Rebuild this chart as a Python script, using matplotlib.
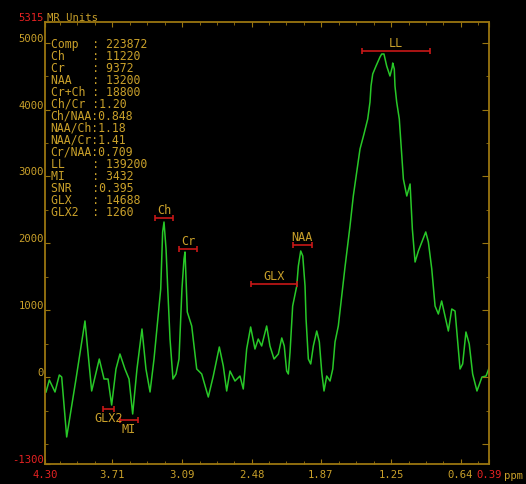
import numpy as np
import matplotlib.pyplot as plt

# spectrum trace (ppm, MR units)
ppm = [4.291, 4.262, 4.212, 4.174, 4.153, 4.109, 4.027, 3.948, 3.889, 3.822,
       3.780, 3.745, 3.713, 3.675, 3.640, 3.596, 3.560, 3.528, 3.490, 3.446,
       3.411, 3.375, 3.340, 3.306, 3.281, 3.264, 3.252, 3.234, 3.219, 3.199,
       3.173, 3.146, 3.120, 3.094, 3.076, 3.067, 3.047, 3.008, 2.964, 2.920,
       2.862, 2.818, 2.765, 2.730, 2.700, 2.671, 2.627, 2.583, 2.554, 2.524,
       2.489, 2.451, 2.422, 2.392, 2.348, 2.319, 2.283, 2.245, 2.215, 2.193,
       2.172, 2.157, 2.142, 2.119, 2.083, 2.069, 2.048, 2.030, 2.010, 2.001,
       1.981, 1.960, 1.937, 1.907, 1.884, 1.863, 1.843, 1.819, 1.790, 1.766,
       1.746, 1.717, 1.687, 1.658, 1.614, 1.585, 1.564, 1.526, 1.491, 1.458,
       1.438, 1.429, 1.414, 1.385, 1.350, 1.335, 1.315, 1.291, 1.262, 1.242,
       1.238, 1.224, 1.218, 1.203, 1.189, 1.180, 1.144, 1.114, 1.085, 1.065,
       1.041, 1.012, 0.947, 0.924, 0.894, 0.865, 0.836, 0.807, 0.777, 0.748,
       0.718, 0.689, 0.660, 0.645, 0.622, 0.593, 0.564, 0.534, 0.496, 0.452,
       0.416, 0.386]
mr_units = [-223, -44, -223, 31, 1, -896, -29, 839, -208, 270,
            -29, -29, -418, 121, 345, 121, -29, -552, 121, 719,
            121, -223, 270, 869, 1317, 2170, 2319, 1915, 1317, 569,
            -29, 46, 270, 1317, 1766, 1871, 973, 764, 121, 46,
            -298, 16, 450, 166, -208, 91, -59, 16, -178, 420,
            749, 420, 569, 465, 764, 465, 270, 345, 585, 465,
            91, 46, 375, 1063, 1362, 1661, 1886, 1811, 1362, 869,
            270, 196, 465, 689, 525, 76, -208, 16, -59, 121,
            525, 764, 1213, 1646, 2260, 2708, 2962, 3411, 3635, 3860,
            4114, 4353, 4533, 4652, 4787, 4832, 4832, 4652, 4503, 4637,
            4697, 4608, 4353, 4114, 3964, 3860, 2962, 2708, 2888, 2215,
            1721, 1886, 2170, 2020, 1616, 1063, 943, 1138, 913, 689,
            1018, 988, 420, 121, 196, 674, 495, 46, -208, 1,
            16, 151]

# integration ranges of the fitted peaks
peak_names = ['Ch', 'Cr', 'NAA', 'GLX', 'LL', 'GLX2', 'MI']
peak_start = [3.33, 3.12, 2.12, 2.49, 1.51, 3.79, 3.64]
peak_end = [3.17, 2.96, 1.95, 2.08, 0.91, 3.69, 3.48]
peak_level = [2375, 1915, 1975, 1390, 4880, -480, -640]
label_below = ['GLX2', 'MI']

info_names = ['Comp', 'Ch', 'Cr', 'NAA', 'Cr+Ch', 'Ch/Cr', 'Ch/NAA', 'NAA/Ch',
              'NAA/Cr', 'Cr/NAA', 'LL', 'MI', 'SNR', 'GLX', 'GLX2']
info_values = [' 223872', ' 11220', ' 9372', ' 13200', ' 18800', '1.20', '0.848',
               '1.18', '1.41', '0.709', ' 139200', ' 3432', '0.395', ' 14688', ' 1260']

x_major = [4.30, 3.71, 3.09, 2.48, 1.87, 1.25, 0.64, 0.39]
y_major = [-1300, 0, 1000, 2000, 3000, 4000, 5000, 5315]

BG = 'black'
FRAME = '#9a7610'
TEXT = '#c9a02a'
RED = '#e62222'
BAR = '#c81818'
GREEN = '#28c828'
MONO = 'DejaVu Sans Mono'

plt.rcParams['font.family'] = MONO

fig = plt.figure(figsize=(5.26, 4.85), dpi=100, facecolor=BG)
ax = fig.add_axes([45 / 526, 20 / 485, 444 / 526, 442.3 / 485])
ax.set_facecolor(BG)

ax.plot(ppm, mr_units, color=GREEN, lw=1.1)
ax.set_xlim(x_major[0], x_major[-1])
ax.set_ylim(y_major[0], y_major[-1])

for s in ax.spines.values():
    s.set_color(FRAME)
    s.set_linewidth(1.3)

# x ticks: labelled majors plus three minors between each pair
inner = x_major[1:-1]
step = (inner[0] - inner[-1]) / (4 * (len(inner) - 1))
x_minor = [inner[0] + step * k for k in (3, 2, 1)]
for a, b in zip(inner[:-1], inner[1:]):
    x_minor += list(np.linspace(a, b, 5)[1:-1])
x_minor.append(inner[-1] - step)

ax.set_xticks(x_major, [f'{v:.2f}' for v in x_major])
ax.set_xticks(x_minor, minor=True)
ax.tick_params(axis='x', which='both', direction='in', top=True, color=FRAME,
               labelcolor=TEXT, labelsize=7.6, pad=3.5)
ax.tick_params(axis='x', which='major', length=3.8)
ax.tick_params(axis='x', which='minor', length=2)
xl = ax.get_xticklabels()
xl[0].set_color(RED)
xl[-1].set_color(RED)

ax.set_yticks(y_major, [str(v) for v in y_major])
ax.set_yticks(np.arange(-1000, 5001, 500), minor=True)
ax.tick_params(axis='y', which='both', direction='in', color=FRAME,
               labelcolor=TEXT, labelsize=7.6, pad=0.8)
ax.tick_params(axis='y', which='major', length=3.6)
ax.tick_params(axis='y', which='minor', length=2.2)
yl = ax.get_yticklabels()
for lab in yl:
    lab.set_verticalalignment('bottom')
yl[0].set_color(RED)
yl[-1].set_color(RED)

# right-hand scale: longer inward ticks, no labels
ax2 = ax.twinx()
ax2.set_ylim(y_major[0], y_major[-1])
ax2.set_yticks(np.arange(-1000, 5001, 1000))
ax2.set_yticks(np.arange(-500, 5001, 1000), minor=True)
ax2.tick_params(axis='y', which='both', direction='in', color=FRAME, labelright=False)
ax2.tick_params(axis='y', which='major', length=5)
ax2.tick_params(axis='y', which='minor', length=2.5)
for s in ax2.spines.values():
    s.set_visible(False)

ax.text(0.005, 1.0, 'MR Units', transform=ax.transAxes, color=TEXT,
        fontsize=7.6, ha='left', va='bottom')
ax.text(1.056, -0.025, 'ppm', transform=ax.transAxes, color=TEXT,
        fontsize=7.6, ha='center', va='center', clip_on=False)

# peak ranges with their names
for name, a, b, lvl in zip(peak_names, peak_start, peak_end, peak_level):
    mid = (a + b) / 2
    ax.errorbar(mid, lvl, xerr=abs(a - b) / 2, color=BAR, lw=1.2,
                capsize=2, capthick=1.2, fmt='none')
    if name in label_below:
        ax.annotate(name, (mid, lvl), xytext=(0, -1.5), textcoords='offset points',
                    ha='center', va='top', color=TEXT, fontsize=8.5)
    else:
        ax.annotate(name, (mid, lvl), xytext=(0, 1.5), textcoords='offset points',
                    ha='center', va='bottom', color=TEXT, fontsize=8.5)

# results table in the upper left
for i, (name, val) in enumerate(zip(info_names, info_values)):
    ax.text(0.0128, 0.9518 - i * 0.02713, f'{name:<6}:{val}', transform=ax.transAxes,
            color=TEXT, fontsize=8.3, ha='left', va='center')

fig.savefig('out.png', dpi=100, facecolor=BG)
